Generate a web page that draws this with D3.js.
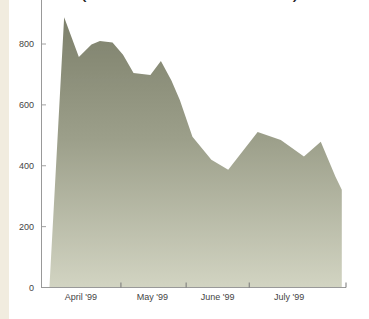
<!DOCTYPE html>
<html>
<head>
<meta charset="utf-8">
<script src="https://cdn.jsdelivr.net/npm/d3@7"></script>
<style>
  body { margin: 0; background: #fff; }
  svg { display: block; font-family: "Liberation Sans", Arial, sans-serif; }
  .tick-label { font-size: 9px; fill: #444; }
</style>
</head>
<body>
<div id="container"></div>
<script>
/* CONSTANTS AND DATA */
const width = 369,
  height = 319,
  margin = { top: 0, bottom: 31, left: 41, right: 23 };

const parseDate = d3.timeParse("%Y-%m-%d");

// outline of the area
const dates = ["1999-03-28", "1999-04-04", "1999-04-11", "1999-04-17", "1999-04-21",
  "1999-04-27", "1999-05-02", "1999-05-07", "1999-05-15", "1999-05-20", "1999-05-25",
  "1999-05-29", "1999-06-04", "1999-06-13", "1999-06-21", "1999-07-05", "1999-07-16",
  "1999-07-27", "1999-08-04", "1999-08-11", "1999-08-14"];
const values = [0, 888, 757, 798, 810, 805, 765, 705, 698, 744, 680, 616, 495, 420,
  387, 511, 485, 430, 479, 364, 321];

const yTicks = [0, 200, 400, 600, 800];
const monthTicks = ["1999-05-01", "1999-06-01", "1999-07-01"];
const monthLabels = ["April '99", "May '99", "June '99", "July '99"];
const labelDates = ["1999-04-12", "1999-05-16", "1999-06-16", "1999-07-20"];
const xDomain = ["1999-03-24", "1999-08-16"];
const titleBits = ["(", ")"];

const data = dates.map((d, i) => ({ date: parseDate(d), value: values[i] }));

/* SCALES */
const xScale = d3.scaleTime()
  .domain(xDomain.map(parseDate))
  .range([margin.left, width - margin.right]);

const yScale = d3.scaleLinear()
  .domain([0, 800])
  .range([height - margin.bottom - 0.5, 44]);

const svg = d3.select("#container")
  .append("svg")
  .attr("width", width)
  .attr("height", height);

// scanned paper edge on the left
svg.append("rect")
  .attr("x", 0).attr("y", 0)
  .attr("width", 9).attr("height", height)
  .attr("fill", "#f1ecdf");

const defs = svg.append("defs");
const grad = defs.append("linearGradient")
  .attr("id", "fillGrad")
  .attr("x1", 0).attr("y1", 0).attr("x2", 0).attr("y2", 1);
grad.append("stop").attr("offset", "0%").attr("stop-color", "#7d806b");
grad.append("stop").attr("offset", "45%").attr("stop-color", "#9c9f8a");
grad.append("stop").attr("offset", "100%").attr("stop-color", "#d2d4c2");

defs.append("filter")
  .attr("id", "soft")
  .append("feGaussianBlur")
  .attr("stdDeviation", 0.6);

/* AREA */
const area = d3.area()
  .x(d => xScale(d.date))
  .y0(yScale(0))
  .y1(d => yScale(d.value));

svg.append("path")
  .datum(data)
  .attr("d", area)
  .attr("fill", "url(#fillGrad)")
  .attr("filter", "url(#soft)");

/* AXES */
const yAxis = d3.axisLeft(yScale)
  .tickValues(yTicks)
  .tickSize(0)
  .tickPadding(7);

const yAxisGroup = svg.append("g")
  .attr("transform", `translate(${margin.left}, 0)`)
  .call(yAxis);
yAxisGroup.select(".domain").remove();
yAxisGroup.selectAll("text").attr("class", "tick-label");

// inward tick marks
svg.selectAll(".ytick")
  .data(yTicks.filter(d => d > 0))
  .join("line")
  .attr("class", "ytick")
  .attr("x1", margin.left).attr("x2", margin.left + 5)
  .attr("y1", d => yScale(d)).attr("y2", d => yScale(d))
  .attr("stroke", "#888").attr("stroke-width", 0.8);

svg.append("line")
  .attr("x1", margin.left + 0.5).attr("x2", margin.left + 0.5)
  .attr("y1", 0).attr("y2", yScale(0))
  .attr("stroke", "#999").attr("stroke-width", 1);

svg.append("line")
  .attr("x1", margin.left).attr("x2", width - margin.right)
  .attr("y1", yScale(0)).attr("y2", yScale(0))
  .attr("stroke", "#999").attr("stroke-width", 1);

svg.selectAll(".xtick")
  .data(monthTicks.map(parseDate).concat([parseDate(xDomain[1])]))
  .join("line")
  .attr("class", "xtick")
  .attr("x1", d => xScale(d)).attr("x2", d => xScale(d))
  .attr("y1", yScale(0)).attr("y2", yScale(0) - 5)
  .attr("stroke", "#777").attr("stroke-width", 1);

svg.selectAll(".xlabel")
  .data(monthLabels)
  .join("text")
  .attr("class", "xlabel tick-label")
  .attr("x", (d, i) => xScale(parseDate(labelDates[i])))
  .attr("y", yScale(0) + 12)
  .attr("text-anchor", "middle")
  .text(d => d);

// title cut off at the top of the scan
svg.selectAll(".title-bit")
  .data(titleBits)
  .join("text")
  .attr("class", "title-bit")
  .attr("x", (d, i) => i === 0 ? 83 : 296)
  .attr("y", -2)
  .attr("font-size", 20)
  .attr("fill", "#222")
  .attr("text-anchor", "middle")
  .text(d => d);
</script>
</body>
</html>
